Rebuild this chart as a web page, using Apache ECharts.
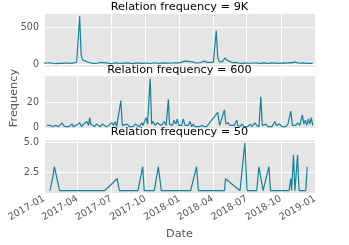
<!DOCTYPE html>
<html><head><meta charset="utf-8">
<script src="https://cdn.jsdelivr.net/npm/echarts@6/dist/echarts.min.js"></script>
<style>html,body{margin:0;padding:0;background:#fff}#c{width:349px;height:245px}</style>
</head><body><div id="c"></div>
<script>
// ---- data ----
const xTickLabels = ['2017-01','2017-04','2017-07','2017-10','2018-01','2018-04','2018-07','2018-10','2019-01'];
const xMinDate = '2017-01-01';
const xMaxDate = '2019-01-01';
const titles = ['Relation frequency = 9K', 'Relation frequency = 600', 'Relation frequency = 50'];

// top series: one reading every 4 days from topStart
const topStart = '2017-01-01';
const topStepDays = 4;
const topValues = [
  18,12,20,15,22,14,17,25,13,19,
  16,21,14,24,18,12,20,27,15,19,
  22,16,30,20,
  650,
  140,60,35,45,62,
  30,25,18,22,15,20,17,24,28,33,
  25,30,22,18,15,20,13,17,22,14,
  18,21,15,12,19,16,23,14,18,20,
  13,17,21,15,19,12,16,22,18,14,
  20,16,13,19,24,15,18,22,14,17,
  21,16,19,13,18,25,20,17,23,28,
  22,30,26,35,42,38,45,32,40,28,
  35,25,22,28,20,24,30,38,45,35,
  28,25,30,22,28,35,
  460,
  95,40,30,
  35,52,88,60,80,42,30,25,22,28,
  20,18,24,16,20,22,15,19,23,17,
  14,20,18,22,16,13,19,21,15,18,
  20,14,17,23,16,19,13,18,22,15,
  17,21,14,19,16,24,18,22,28,36,
  25,20,30,18,15,22,17,14,20,16,
  18,15
];

const midDates = [
  '2017-01-08','2017-01-13','2017-01-18','2017-01-24','2017-02-01','2017-02-09','2017-02-19','2017-02-22','2017-02-28','2017-03-08',
  '2017-03-18','2017-03-21','2017-03-29','2017-04-07','2017-04-12','2017-04-18','2017-04-22','2017-04-27','2017-05-01','2017-05-04',
  '2017-05-07','2017-05-11','2017-05-17','2017-05-22','2017-05-27','2017-06-02','2017-06-07','2017-06-12','2017-06-18','2017-06-24',
  '2017-06-29','2017-07-03','2017-07-07','2017-07-12','2017-07-16','2017-07-20','2017-07-27','2017-07-31','2017-08-05','2017-08-13',
  '2017-08-19','2017-08-24','2017-08-29','2017-09-04','2017-09-09','2017-09-15','2017-09-22','2017-09-25','2017-10-03','2017-10-07',
  '2017-10-14','2017-10-18','2017-10-22','2017-10-28','2017-11-02','2017-11-07','2017-11-13','2017-11-21','2017-11-26','2017-12-02',
  '2017-12-05','2017-12-09','2017-12-13','2017-12-17','2017-12-22','2017-12-26','2017-12-30','2018-01-03','2018-01-07','2018-01-11',
  '2018-01-16','2018-01-21','2018-01-25','2018-01-29','2018-02-03','2018-02-07','2018-02-12','2018-02-17','2018-02-23','2018-03-03',
  '2018-03-09','2018-03-15','2018-04-14','2018-04-19','2018-04-23','2018-05-02','2018-05-06','2018-05-12','2018-05-17','2018-05-22',
  '2018-05-28','2018-06-04','2018-06-07','2018-06-13','2018-06-18','2018-06-24','2018-06-29','2018-07-04','2018-07-10','2018-07-15',
  '2018-07-23','2018-07-28','2018-08-03','2018-08-08','2018-08-12','2018-08-16','2018-08-22','2018-08-27','2018-09-01','2018-09-07',
  '2018-09-15','2018-09-19','2018-09-23','2018-09-28','2018-10-04','2018-10-09','2018-10-14','2018-10-20','2018-10-24','2018-10-28',
  '2018-11-01','2018-11-05','2018-11-10','2018-11-16','2018-11-21','2018-11-28','2018-12-02','2018-12-06','2018-12-10','2018-12-14',
  '2018-12-18','2018-12-22','2018-12-26'
];
const midValues = [
  2,1,2,1,2,1,4,2,1,1,
  3,1,2,4,1,3,2,5,2,8,
  3,2,1,3,2,1,3,2,1,2,
  1,4,2,5,1,2,21,2,1,3,
  1,2,1,3,2,1,4,2,8,3,
  38,3,5,2,4,3,2,5,2,22,
  3,4,2,6,3,7,2,3,2,7,
  2,1,2,5,1,3,1,2,1,2,
  1,1,12,2,3,14,3,4,2,3,
  2,6,2,1,3,1,2,1,3,1,
  4,2,1,24,2,1,3,1,2,1,
  5,2,1,3,1,2,1,3,2,13,
  2,3,2,4,2,10,3,6,2,7,
  3,8,2
];

const lowDates = [
  '2017-01-17','2017-01-24','2017-01-29','2017-02-12','2017-06-13','2017-07-17','2017-07-23','2017-09-11','2017-09-24','2017-09-28',
  '2017-10-25','2017-11-05','2017-11-13','2018-01-31','2018-02-16','2018-02-21','2018-05-02','2018-05-05','2018-06-13','2018-06-26',
  '2018-07-02','2018-07-28','2018-08-03','2018-08-14','2018-08-30','2018-09-03','2018-10-23','2018-10-28','2018-10-30','2018-11-04',
  '2018-11-08','2018-11-15','2018-11-19','2018-12-07','2018-12-11'
];
const lowValues = [
  1,2,3,1,1,2,1,1,3,1,
  1,3,1,1,3,1,1,2,1,5,
  1,1,3,1,3,1,1,2,1,4,
  1,4,1,1,3
];

const yTicksTop = [0, 500];
const yTicksMid = [0, 20];
const yTicksLow = [2.5, 5.0];

// ---- chart ----
function P(s) { const p = s.split('-').map(Number); return Date.UTC(p[0], p[1] - 1, p[2] || 1); }
function fmt(t) { const d = new Date(t); return d.getUTCFullYear() + '-' + String(d.getUTCMonth() + 1).padStart(2, '0'); }
const DAY = 86400000;
const topT0 = P(topStart);
const topData = topValues.map((v, i) => [topT0 + i * topStepDays * DAY, v]);
const midData = midDates.map((d, i) => [P(d), midValues[i]]);
const lowData = lowDates.map((d, i) => [P(d), lowValues[i]]);
const xTicks = xTickLabels.map(s => P(s + '-01'));

const FONT = 'DejaVu Sans';
const LINE = '#17819a';
const gridBase = {left: 44, right: 34, show: true, backgroundColor: '#E5E5E5', borderWidth: 0};
const grids = [
  Object.assign({top: 14, height: 52.5}, gridBase),
  Object.assign({top: 76.2, height: 52.9}, gridBase),
  Object.assign({top: 140.3, height: 52.8}, gridBase)
];
function xAx(i) {
  return {
    type: 'value', gridIndex: i, min: P(xMinDate), max: P(xMaxDate),
    axisLine: {show: false},
    axisTick: {show: false, customValues: xTicks},
    splitLine: {show: true, lineStyle: {color: '#ffffff', width: 1}},
    axisLabel: {
      show: i === 2, customValues: xTicks, rotate: 30, margin: 5,
      fontSize: 9.6, color: '#555555', fontFamily: FONT,
      formatter: v => fmt(v)
    },
    name: i === 2 ? 'Date' : '', nameLocation: 'middle', nameGap: 35,
    nameTextStyle: {fontSize: 11.3, color: '#555555', fontFamily: FONT}
  };
}
function yAx(i, min, max, ticks, dec) {
  return {
    type: 'value', gridIndex: i, min: min, max: max,
    axisLine: {show: false},
    axisTick: {show: false, customValues: ticks},
    splitLine: {show: true, lineStyle: {color: '#ffffff', width: 1}},
    axisLabel: {
      customValues: ticks, margin: 5, fontSize: 9.6, color: '#555555', fontFamily: FONT,
      formatter: v => dec ? Number(v).toFixed(dec) : String(v)
    }
  };
}
function ser(i, data) {
  return {type: 'line', xAxisIndex: i, yAxisIndex: i, data: data, showSymbol: false, symbol: 'none',
    lineStyle: {color: LINE, width: 1.2}, itemStyle: {color: LINE}, animation: false};
}
const cx = 179.5;
const chart = echarts.init(document.getElementById('c'), null, {renderer: 'canvas'});
chart.setOption({
  animation: false,
  grid: grids,
  xAxis: [xAx(0), xAx(1), xAx(2)],
  yAxis: [
    yAx(0, -27, 682, yTicksTop, 0),
    yAx(1, -0.85, 39.85, yTicksMid, 0),
    yAx(2, 0.8, 5.2, yTicksLow, 1)
  ],
  series: [ser(0, topData), ser(1, midData), ser(2, lowData)],
  graphic: [
    {type: 'text', x: cx, y: 7, z: 100, style: {text: titles[0], fontSize: 11.3, fontFamily: FONT, fill: '#000', align: 'center', verticalAlign: 'middle'}},
    {type: 'text', x: cx, y: 70.5, z: 100, style: {text: titles[1], fontSize: 11.3, fontFamily: FONT, fill: '#000', align: 'center', verticalAlign: 'middle'}},
    {type: 'text', x: cx, y: 132.5, z: 100, style: {text: titles[2], fontSize: 11.3, fontFamily: FONT, fill: '#000', align: 'center', verticalAlign: 'middle'}},
    {type: 'text', x: 14, y: 98, rotation: Math.PI / 2, z: 100, style: {text: 'Frequency', fontSize: 11.3, fontFamily: FONT, fill: '#555555', align: 'center', verticalAlign: 'middle'}}
  ]
});
</script>
</body></html>
